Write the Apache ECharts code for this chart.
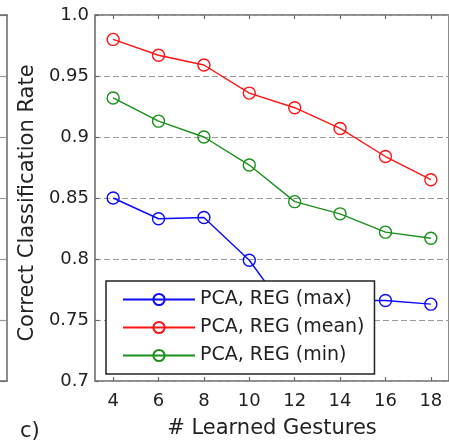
<!DOCTYPE html>
<html>
<head>
<meta charset="utf-8">
<script src="https://cdn.jsdelivr.net/npm/echarts@6/dist/echarts.min.js"></script>
<style>
  html, body { margin: 0; padding: 0; background: #fff; }
  #chart { width: 449px; height: 445px; }
</style>
</head>
<body>
<div id="chart"></div>
<script>
// Number of learned gestures on the x axis
const gestures = [4, 6, 8, 10, 12, 14, 16, 18];
// Correct classification rate per gesture count
const rateMax  = [0.850, 0.833, 0.834, 0.799, 0.748, 0.766, 0.766, 0.763];
const rateMean = [0.980, 0.967, 0.959, 0.936, 0.924, 0.907, 0.884, 0.865];
const rateMin  = [0.932, 0.913, 0.900, 0.877, 0.847, 0.837, 0.822, 0.817];
// Axis tick labels
const xTicks = [4, 6, 8, 10, 12, 14, 16, 18];
const yTickLabels = ['0.7', '0.75', '0.8', '0.85', '0.9', '0.95', '1.0'];
const seriesNames = ['PCA, REG (max)', 'PCA, REG (mean)', 'PCA, REG (min)'];

const FONT = 'DejaVu Sans';
const AXIS_COLOR = '#666';
const TEXT_COLOR = '#222';
const GRID_LINE = { show: true, lineStyle: { color: '#9a9a9a', width: 1.2, type: [6, 3] } };

function pairs(ys) { return gestures.map((x, i) => [x, ys[i]]); }

function lineSeries(name, ys, color) {
  return {
    name: name,
    type: 'line',
    xAxisIndex: 0,
    yAxisIndex: 0,
    data: pairs(ys),
    symbol: 'circle',
    symbolSize: 12,
    showSymbol: true,
    lineStyle: { color: color, width: 1.4 },
    itemStyle: { color: 'rgba(255,255,255,0)', borderColor: color, borderWidth: 1.4 },
    emphasis: { disabled: true },
    animation: false
  };
}

const chart = echarts.init(document.getElementById('chart'), null, { renderer: 'canvas' });

chart.setOption({
  backgroundColor: '#fff',
  animation: false,
  title: {
    text: 'c)',
    left: 20,
    top: 421,
    padding: 0,
    textStyle: { fontFamily: FONT, fontSize: 21, fontWeight: 'normal', color: TEXT_COLOR }
  },
  grid: [
    {
      // main panel
      left: 95, top: 15, width: 361, bottom: 64,
      show: true, borderColor: AXIS_COLOR, borderWidth: 1.5, backgroundColor: 'transparent'
    },
    {
      // right edge of the neighbouring panel
      left: 0, top: 15, width: 7, bottom: 64, show: false
    }
  ],
  xAxis: [
    {
      gridIndex: 0, type: 'value', min: 3.2, max: 18.8, position: 'bottom',
      name: '# Learned Gestures', nameLocation: 'middle', nameGap: 37,
      nameTextStyle: { fontFamily: FONT, fontSize: 21, color: TEXT_COLOR },
      axisLine: { show: false },
      axisTick: { show: true, inside: true, length: 4, customValues: xTicks,
                  lineStyle: { color: AXIS_COLOR, width: 1.2 } },
      axisLabel: { show: true, customValues: xTicks, margin: 11,
                   fontFamily: FONT, fontSize: 18, color: TEXT_COLOR },
      splitLine: { show: false }
    },
    {
      gridIndex: 0, type: 'value', min: 3.2, max: 18.8, position: 'top',
      axisLine: { show: false },
      axisTick: { show: true, inside: true, length: 4, customValues: xTicks,
                  lineStyle: { color: AXIS_COLOR, width: 1.2 } },
      axisLabel: { show: false },
      splitLine: { show: false }
    },
    {
      gridIndex: 1, type: 'value', min: 0, max: 1, position: 'bottom',
      axisLine: { show: true, onZero: false, lineStyle: { color: AXIS_COLOR, width: 1.5 } },
      axisTick: { show: false }, axisLabel: { show: false }, splitLine: { show: false }
    },
    {
      gridIndex: 1, type: 'value', min: 0, max: 1, position: 'top',
      axisLine: { show: true, onZero: false, lineStyle: { color: AXIS_COLOR, width: 1.5 } },
      axisTick: { show: false }, axisLabel: { show: false }, splitLine: { show: false }
    }
  ],
  yAxis: [
    {
      gridIndex: 0, type: 'value', min: 0.7, max: 1.0, interval: 0.05,
      name: 'Correct Classification Rate', nameLocation: 'middle', nameGap: 55,
      nameRotate: 90,
      nameTextStyle: { fontFamily: FONT, fontSize: 21, color: TEXT_COLOR, padding: [0, 10, 0, 0] },
      axisLine: { show: false },
      axisTick: { show: true, inside: true, length: 4, lineStyle: { color: AXIS_COLOR, width: 1.2 } },
      axisLabel: {
        margin: 6, fontFamily: FONT, fontSize: 18, color: TEXT_COLOR,
        formatter: v => yTickLabels[Math.round((v - 0.7) / 0.05)]
      },
      splitLine: GRID_LINE
    },
    {
      gridIndex: 1, type: 'value', min: 0.7, max: 1.0, interval: 0.05, position: 'right',
      axisLine: { show: true, onZero: false, lineStyle: { color: AXIS_COLOR, width: 1.5 } },
      axisTick: { show: false }, axisLabel: { show: false },
      splitLine: GRID_LINE
    }
  ],
  legend: {
    orient: 'vertical',
    left: 106, top: 281,
    padding: [9, 10, 9, 16],
    itemWidth: 72, itemHeight: 14, itemGap: 9,
    backgroundColor: '#fff',
    borderColor: '#222', borderWidth: 1.5,
    data: seriesNames,
    selectedMode: false,
    textStyle: { fontFamily: FONT, fontSize: 19, color: TEXT_COLOR, lineHeight: 18 }
  },
  series: [
    lineSeries(seriesNames[0], rateMax, '#0a0aff'),
    lineSeries(seriesNames[1], rateMean, '#ff1414'),
    lineSeries(seriesNames[2], rateMin, '#1a8f1a')
  ]
});
</script>
</body>
</html>
